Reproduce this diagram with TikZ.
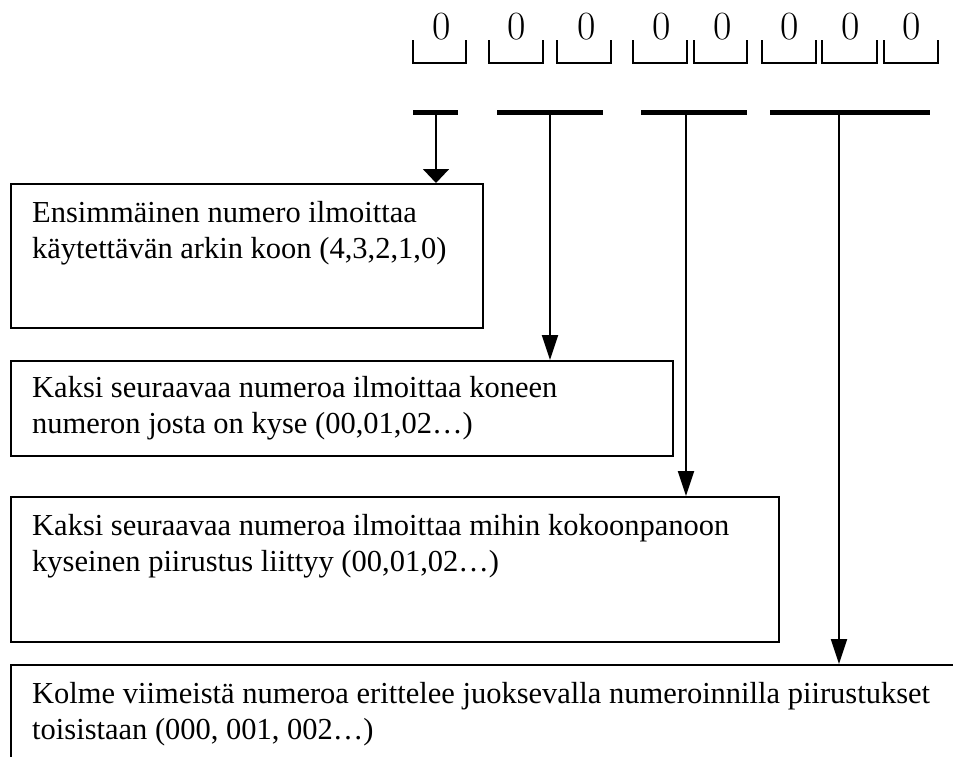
\documentclass[tikz,border=0pt]{standalone}
\usepackage{fontspec}
\newfontfamily\boxfont{Liberation Serif}
\usetikzlibrary{arrows.meta,calc}

\begin{document}
\begin{tikzpicture}[
  x=1pt, y=-1pt,
  digit/.style={font=\fontsize{40}{40}\selectfont, inner sep=0pt, anchor=base},
  slot/.style={line width=1.6pt},
  bar/.style={line width=5pt},
  box/.style={draw, line width=1.8pt, anchor=north west, inner sep=0pt},
  txt/.style={font=\boxfont\fontsize{30.5}{36}\selectfont, align=left, anchor=north west, inner sep=0pt},
  arr/.style={line width=2pt, -{Triangle[length=25pt, width=16pt]}},
  arrshort/.style={line width=2pt, -{Triangle[length=14pt, width=26pt]}}]
  \useasboundingbox (0,0) rectangle (953,756);
  \clip (0,0) rectangle (953,756);
  % digits and their slots
  \node[digit] (z1) at (442,39) {0};
  \node[digit] (z2) at (517,39) {0};
  \node[digit] (z3) at (587,39) {0};
  \node[digit] (z4) at (662,39) {0};
  \node[digit] (z5) at (723,39) {0};
  \node[digit] (z6) at (790,39) {0};
  \node[digit] (z7) at (851,39) {0};
  \node[digit] (z8) at (912,39) {0};
  \draw[slot] (413,40) |- (466,63) -- (466,40);
  \draw[slot] (489,40) |- (543,63) -- (543,40);
  \draw[slot] (557,40) |- (611,63) -- (611,40);
  \draw[slot] (633,40) |- (687,63) -- (687,40);
  \draw[slot] (694,40) |- (747,63) -- (747,40);
  \draw[slot] (762,40) |- (816,63) -- (816,40);
  \draw[slot] (822,40) |- (877,63) -- (877,40);
  \draw[slot] (884,40) |- (938,63) -- (938,40);
  % groups
  \draw[bar] (413,112) -- (458,112);
  \draw[bar] (497,112) -- (603,112);
  \draw[bar] (641,112) -- (747,112);
  \draw[bar] (770,112) -- (930,112);
  \coordinate (g1) at (436,112);
  \coordinate (g2) at (550,112);
  \coordinate (g3) at (686,112);
  \coordinate (g4) at (839,112);
  % explanations
  \node[box, minimum width=472pt, minimum height=144pt] (box1) at (10,183) {};
  \node[box, minimum width=662pt, minimum height=95pt] (box2) at (10,360) {};
  \node[box, minimum width=768pt, minimum height=145pt] (box3) at (10,496) {};
  \node[box, minimum width=1000pt, minimum height=150pt] (box4) at (10,664) {};
  \node[txt] (txt1) at ($(box1.north west)+(22,18)$) {Ensimmäinen numero ilmoittaa\\käytettävän arkin koon (4,3,2,1,0)};
  \node[txt] (txt2) at ($(box2.north west)+(22,16)$) {Kaksi seuraavaa numeroa ilmoittaa koneen\\numeron josta on kyse (00,01,02…)};
  \node[txt] (txt3) at ($(box3.north west)+(22,18)$) {Kaksi seuraavaa numeroa ilmoittaa mihin kokoonpanoon\\kyseinen piirustus liittyy (00,01,02…)};
  \node[txt] (txt4) at ($(box4.north west)+(22,18)$) {Kolme viimeistä numeroa erittelee juoksevalla numeroinnilla piirustukset\\toisistaan (000, 001, 002…)};
  % pointers
  \draw[arrshort] (g1) -- (g1 |- box1.north);
  \draw[arr] (g2) -- (g2 |- box2.north);
  \draw[arr] (g3) -- (g3 |- box3.north);
  \draw[arr] (g4) -- (g4 |- box4.north);
\end{tikzpicture}
\end{document}
